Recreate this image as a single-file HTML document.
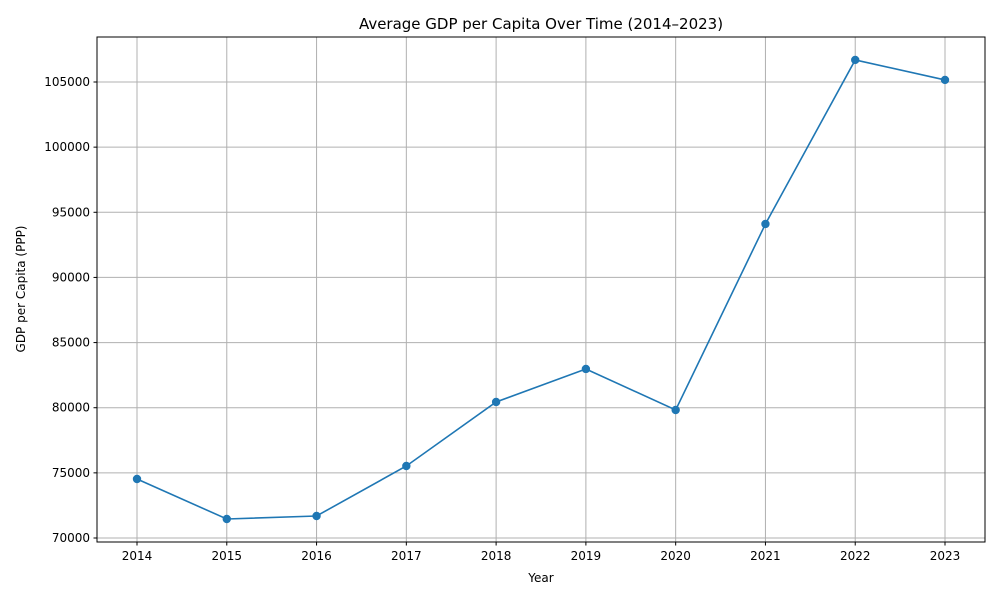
<!DOCTYPE html>
<html><head><meta charset="utf-8"><style>
body{margin:0;background:#fff;font-family:"Liberation Sans","DejaVu Sans",sans-serif}
svg text{font-family:"DejaVu Sans","Liberation Sans",sans-serif}
</style></head><body>
<svg id="chart" width="1000" height="600" xmlns="http://www.w3.org/2000/svg">
<text x="541" y="29" font-size="15" text-anchor="middle">Average GDP per Capita Over Time (2014–2023)</text>
<text x="541" y="582" font-size="12" text-anchor="middle">Year</text>
<text transform="translate(25,289) rotate(-90)" font-size="12" text-anchor="middle">GDP per Capita (PPP)</text>
<g id="grid"></g><g id="ticks"></g><g id="series"></g>
<rect x="97" y="37" width="888" height="505" fill="none" stroke="#000" stroke-width="1"/>
</svg>
<script>
const years = [2014,2015,2016,2017,2018,2019,2020,2021,2022,2023];
const gdp = [74529,71458,71689,75527,80440,82973,79825,94103,106692,105157];
const yTicks = [70000,75000,80000,85000,90000,95000,100000,105000];
const NS="http://www.w3.org/2000/svg";
function X(v){return 137+(v-2014)*(945-137)/9;}
function Y(v){return 538-(v-70000)*(538-82)/35000;}
function mk(t,a,p){const e=document.createElementNS(NS,t);for(const k in a)e.setAttribute(k,a[k]);p.appendChild(e);return e;}
const grid=document.getElementById('grid'),ticks=document.getElementById('ticks'),ser=document.getElementById('series');
years.forEach(y=>{const x=X(y);
 const g=mk('line',{x1:x,x2:x,y1:37,y2:542,stroke:'#b0b0b0','stroke-width':1},grid);
 
 
 mk('line',{x1:x,x2:x,y1:542,y2:545.5,stroke:'#000'},ticks);
 const t=mk('text',{x:x,y:560,'font-size':12,'text-anchor':'middle'},ticks);t.textContent=y;
 
 
});
yTicks.forEach(v=>{const y=Y(v);
 const g=mk('line',{x1:97,x2:985,y1:y,y2:y,stroke:'#b0b0b0','stroke-width':1},grid);
 
 
 mk('line',{x1:93.5,x2:97,y1:y,y2:y,stroke:'#000'},ticks);
 const t=mk('text',{x:90,y:y+4,'font-size':12,'text-anchor':'end'},ticks);t.textContent=v;
 
 
});
const pl=mk('polyline',{points:years.map((y,i)=>X(y)+','+Y(gdp[i])).join(' '),fill:'none',stroke:'#1f77b4','stroke-width':1.6},ser);


years.forEach((y,i)=>{const c=mk('circle',{cx:X(y),cy:Y(gdp[i]),r:4.2,fill:'#1f77b4'},ser);
 
 
});
</script>
</body></html>
